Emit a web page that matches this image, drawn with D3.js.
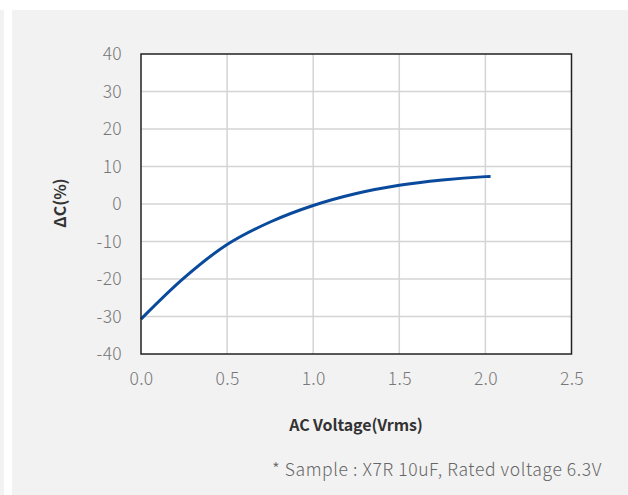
<!DOCTYPE html>
<html><head><meta charset="utf-8">
<script src="https://cdn.jsdelivr.net/npm/d3@7"></script>
<style>html,body{margin:0;padding:0;background:#fff;}svg{display:block;}</style>
</head><body>
<script>
const voltage = [0, 0.25, 0.5, 0.75, 1.0, 1.25, 1.5, 1.75, 2.0, 2.03];
const deltaC  = [-30.7, -19.7, -10.8, -4.8, -0.4, 2.8, 5.0, 6.4, 7.3, 7.35];
const xTicks = [0, 0.5, 1.0, 1.5, 2.0, 2.5];
const yTicks = [-40, -30, -20, -10, 0, 10, 20, 30, 40];
const xTitle = "AC Voltage(Vrms)";
const yTitle = "ΔC(%)";
const note = "* Sample : X7R 10uF, Rated voltage 6.3V";

const W = 628, H = 495;
const svg = d3.select("body").append("svg").attr("width", W).attr("height", H);
svg.append("rect").attr("x", 0).attr("y", 10).attr("width", 4).attr("height", H - 10).attr("fill", "#f2f2f2");
svg.append("rect").attr("x", 12).attr("y", 10).attr("width", W - 12).attr("height", H - 10).attr("fill", "#f2f2f2");

const m = {left: 141, top: 54, right: 571.5, bottom: 354};
const x = d3.scaleLinear().domain([0, 2.5]).range([m.left, m.right]);
const y = d3.scaleLinear().domain([-40, 40]).range([m.bottom, m.top]);

svg.append("rect").attr("x", m.left).attr("y", m.top)
  .attr("width", m.right - m.left).attr("height", m.bottom - m.top).attr("fill", "#fff");

const g = svg.append("g");
g.selectAll(".vg").data(xTicks.slice(1, -1)).enter().append("line")
  .attr("x1", d => x(d)).attr("x2", d => x(d)).attr("y1", m.top).attr("y2", m.bottom)
  .attr("stroke", "#d4d4d4").attr("stroke-width", 1.5);
g.selectAll(".hg").data(yTicks.slice(1, -1)).enter().append("line")
  .attr("x1", m.left).attr("x2", m.right).attr("y1", d => y(d)).attr("y2", d => y(d))
  .attr("stroke", "#d4d4d4").attr("stroke-width", 1.5);

const pts = voltage.map((v, i) => [v, deltaC[i]]);
svg.append("path").datum(pts)
  .attr("d", d3.line().x(d => x(d[0])).y(d => y(d[1])).curve(d3.curveCatmullRom.alpha(0.5)))
  .attr("fill", "none").attr("stroke", "#0a4a9c").attr("stroke-width", 3);

svg.append("rect").attr("x", m.left).attr("y", m.top)
  .attr("width", m.right - m.left).attr("height", m.bottom - m.top)
  .attr("fill", "none").attr("stroke", "#222").attr("stroke-width", 1.5);

const font = "'Noto Sans CJK KR', 'Noto Sans', sans-serif";
const xAxis = svg.append("g").attr("transform", `translate(0,${m.bottom})`)
  .call(d3.axisBottom(x).tickValues(xTicks).tickFormat(d3.format(".1f")).tickSize(0).tickPadding(19));
const yAxis = svg.append("g").attr("transform", `translate(${m.left},0)`)
  .call(d3.axisLeft(y).tickValues(yTicks).tickFormat(d => String(d)).tickSize(0).tickPadding(19));
[xAxis, yAxis].forEach(a => {
  a.select(".domain").remove();
  a.selectAll("text").attr("font-family", font).attr("font-size", 17.5)
    .attr("fill", "#777").attr("font-weight", 300).attr("letter-spacing", 0.3);
});

svg.append("text").attr("x", 356).attr("y", 431).attr("text-anchor", "middle")
  .attr("font-family", font).attr("font-size", 16).attr("font-weight", 700).attr("fill", "#333")
  .attr("letter-spacing", -0.1).text(xTitle);
svg.append("text").attr("transform", "translate(66,203) rotate(-90)").attr("text-anchor", "middle")
  .attr("font-family", font).attr("font-size", 16).attr("font-weight", 700).attr("fill", "#333")
  .text(yTitle);
svg.append("text").attr("x", 602).attr("y", 476).attr("text-anchor", "end")
  .attr("font-family", font).attr("font-size", 17.5).attr("font-weight", 300).attr("fill", "#666")
  .attr("letter-spacing", 0.6).text(note);
</script>
</body></html>
